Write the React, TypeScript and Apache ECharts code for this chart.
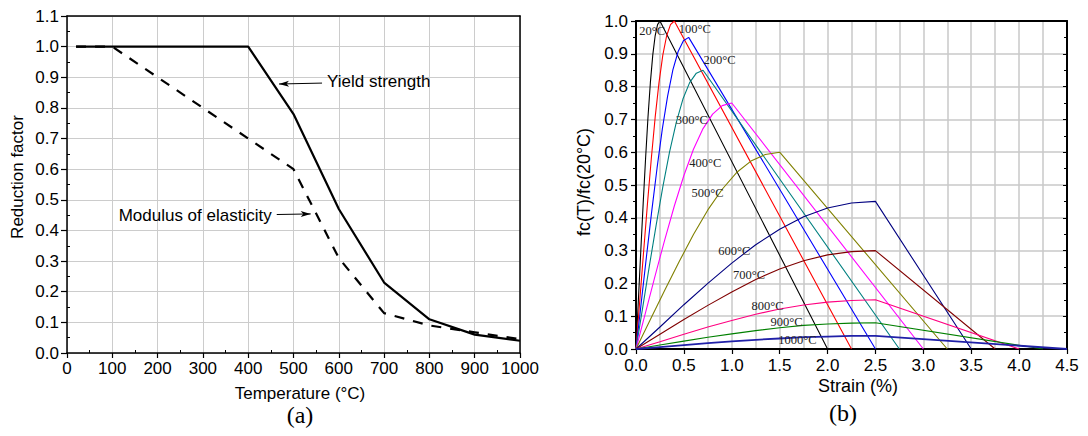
import React, { useEffect, useRef } from 'react';
import * as echarts from 'echarts';

// ---------- (a) Reduction factors ----------
const temperatureYield = [20, 400, 500, 600, 700, 800, 900, 1000];
const yieldStrength = [1.0, 1.0, 0.78, 0.47, 0.23, 0.11, 0.06, 0.04];
const temperatureModulus = [20, 100, 200, 300, 400, 500, 600, 700, 800, 900, 1000];
const modulusElasticity = [1.0, 1.0, 0.9, 0.8, 0.7, 0.6, 0.31, 0.13, 0.09, 0.0675, 0.045];

// ---------- (b) Stress-strain curves ----------
const curveNames = ['20°C', '100°C', '200°C', '300°C', '400°C', '500°C', '600°C', '700°C', '800°C', '900°C', '1000°C'];

const strain20 = [0, 0.025, 0.05, 0.075, 0.1, 0.125, 0.15, 0.175, 0.2, 0.225, 0.25, 2.0];
const stress20 = [0, 0.15, 0.299, 0.444, 0.581, 0.706, 0.812, 0.896, 0.955, 0.989, 1.0, 0];
const strain100 = [0, 0.04, 0.08, 0.12, 0.16, 0.2, 0.24, 0.28, 0.32, 0.36, 0.4, 2.25];
const stress100 = [0, 0.15, 0.299, 0.444, 0.581, 0.706, 0.812, 0.896, 0.955, 0.989, 1.0, 0];
const strain200 = [0, 0.055, 0.11, 0.165, 0.22, 0.275, 0.33, 0.385, 0.44, 0.495, 0.55, 2.5];
const stress200 = [0, 0.142, 0.284, 0.422, 0.552, 0.671, 0.771, 0.851, 0.907, 0.94, 0.95, 0];
const strain300 = [0, 0.07, 0.14, 0.21, 0.28, 0.35, 0.42, 0.49, 0.56, 0.63, 0.7, 2.75];
const stress300 = [0, 0.127, 0.254, 0.377, 0.494, 0.6, 0.69, 0.762, 0.812, 0.841, 0.85, 0];
const strain400 = [0, 0.1, 0.2, 0.3, 0.4, 0.5, 0.6, 0.7, 0.8, 0.9, 1.0, 3.0];
const stress400 = [0, 0.112, 0.224, 0.333, 0.436, 0.529, 0.609, 0.672, 0.716, 0.742, 0.75, 0];
const strain500 = [0, 0.15, 0.3, 0.45, 0.6, 0.75, 0.9, 1.05, 1.2, 1.35, 1.5, 3.25];
const stress500 = [0, 0.09, 0.179, 0.266, 0.349, 0.424, 0.487, 0.538, 0.573, 0.593, 0.6, 0];
const strain600 = [0, 0.25, 0.5, 0.75, 1.0, 1.25, 1.5, 1.75, 2.0, 2.25, 2.5, 3.5];
const stress600 = [0, 0.067, 0.135, 0.2, 0.262, 0.318, 0.365, 0.403, 0.43, 0.445, 0.45, 0];
const strain700 = [0, 0.25, 0.5, 0.75, 1.0, 1.25, 1.5, 1.75, 2.0, 2.25, 2.5, 3.75];
const stress700 = [0, 0.045, 0.09, 0.133, 0.174, 0.212, 0.244, 0.269, 0.287, 0.297, 0.3, 0];
const strain800 = [0, 0.25, 0.5, 0.75, 1.0, 1.25, 1.5, 1.75, 2.0, 2.25, 2.5, 4.0];
const stress800 = [0, 0.022, 0.045, 0.067, 0.087, 0.106, 0.122, 0.134, 0.143, 0.148, 0.15, 0];
const strain900 = [0, 0.25, 0.5, 0.75, 1.0, 1.25, 1.5, 1.75, 2.0, 2.25, 2.5, 4.25];
const stress900 = [0, 0.012, 0.024, 0.036, 0.046, 0.056, 0.065, 0.072, 0.076, 0.079, 0.08, 0];
const strain1000 = [0, 0.25, 0.5, 0.75, 1.0, 1.25, 1.5, 1.75, 2.0, 2.25, 2.5, 4.5];
const stress1000 = [0, 0.006, 0.012, 0.018, 0.023, 0.028, 0.032, 0.036, 0.038, 0.04, 0.04, 0];

// label anchors (left edge, vertical middle) in data units
const labelStrain = [0.03, 0.44, 0.7, 0.41, 0.55, 0.575, 0.854, 1.007, 1.2, 1.4, 1.48];
const labelStress = [0.968, 0.976, 0.88, 0.697, 0.567, 0.476, 0.3, 0.225, 0.132, 0.082, 0.026];

const xTicksA = [0, 1000, 100];
const yTicksA = [0, 1.1, 0.1];
const xTicksB = [0, 4.5, 0.5];
const yTicksB = [0, 1.0, 0.1];

const curveStrains = [strain20, strain100, strain200, strain300, strain400, strain500, strain600, strain700, strain800, strain900, strain1000];
const curveStresses = [stress20, stress100, stress200, stress300, stress400, stress500, stress600, stress700, stress800, stress900, stress1000];
const curveColors = ['#000000', '#ff0000', '#0000ff', '#008080', '#ff00ff', '#808000', '#000080', '#800000', '#ff0080', '#008000', '#2020a8'];

const SANS = '"Liberation Sans", Arial, sans-serif';
const SERIF = '"Liberation Serif", "Times New Roman", serif';

const zip = (xs: number[], ys: number[]) => xs.map((x, i) => [x, ys[i]]);

export default function App() {
  const ref = useRef<HTMLDivElement>(null);

  useEffect(() => {
    document.body.style.margin = '0';
    if (!ref.current) return;
    const chart = echarts.init(ref.current, undefined, { renderer: 'svg' });

    const gridA = { left: 67, top: 16, width: 453, height: 337 };
    const gridB = { left: 636, top: 21, width: 431, height: 328 };

    const curveSeries = curveNames.map((name, i) => ({
      type: 'line',
      name,
      xAxisIndex: 2,
      yAxisIndex: 2,
      data: zip(curveStrains[i], curveStresses[i]),
      symbol: 'none',
      showSymbol: false,
      silent: true,
      lineStyle: { color: curveColors[i], width: i === 10 ? 1.8 : 1.1 },
      markPoint: {
        silent: true,
        symbol: 'circle',
        symbolSize: 1,
        itemStyle: { color: 'rgba(0,0,0,0)' },
        label: {
          show: true,
          position: 'right',
          distance: 0,
          formatter: name,
          fontFamily: SERIF,
          fontSize: 12.5,
          color: '#222',
        },
        data: [{ coord: [labelStrain[i], labelStress[i]] }],
      },
    }));

    const option: any = {
      animation: false,
      grid: [
        { ...gridA, show: false },
        { ...gridB, show: false },
      ],
      xAxis: [
        {
          type: 'value', gridIndex: 0, position: 'bottom',
          min: xTicksA[0], max: xTicksA[1], interval: xTicksA[2],
          axisLine: { show: true, onZero: false, lineStyle: { color: '#000', width: 1.5 } },
          axisTick: { show: true, length: 5, lineStyle: { color: '#000', width: 1.2 } },
          minorTick: { show: true, splitNumber: 2, length: -3, lineStyle: { color: '#000', width: 1 } },
          axisLabel: { color: '#000', fontFamily: SANS, fontSize: 17, margin: 7, formatter: (v: number) => String(v) },
          splitLine: { show: true, lineStyle: { color: '#cccccc', width: 1 } },
        },
        {
          type: 'value', gridIndex: 0, position: 'top',
          min: xTicksA[0], max: xTicksA[1], interval: xTicksA[2],
          axisLine: { show: true, onZero: false, lineStyle: { color: '#000', width: 1.5 } },
          axisTick: { show: false }, axisLabel: { show: false }, splitLine: { show: false },
        },
        {
          type: 'value', gridIndex: 1, position: 'bottom',
          min: xTicksB[0], max: xTicksB[1], interval: xTicksB[2],
          axisLine: { show: true, onZero: false, lineStyle: { color: '#000', width: 2 } },
          axisTick: { show: true, length: 5, lineStyle: { color: '#000', width: 1.2 } },
          minorTick: { show: false, splitNumber: 2 },
          minorSplitLine: { show: true, lineStyle: { color: '#c8c8c8', width: 1.5 } },
          axisLabel: {
            color: '#000', fontFamily: SANS, fontSize: 17, margin: 8,
            formatter: (v: number) => v.toFixed(1),
          },
          splitLine: { show: true, lineStyle: { color: '#c8c8c8', width: 1.5 } },
        },
        {
          type: 'value', gridIndex: 1, position: 'top',
          min: xTicksB[0], max: xTicksB[1], interval: xTicksB[2],
          axisLine: { show: true, onZero: false, lineStyle: { color: '#000', width: 2 } },
          axisTick: { show: false }, axisLabel: { show: false }, splitLine: { show: false },
        },
      ],
      yAxis: [
        {
          type: 'value', gridIndex: 0, position: 'left',
          min: yTicksA[0], max: yTicksA[1], interval: yTicksA[2],
          axisLine: { show: true, onZero: false, lineStyle: { color: '#000', width: 1.5 } },
          axisTick: { show: true, length: 6, lineStyle: { color: '#000', width: 1.2 } },
          minorTick: { show: true, splitNumber: 2, length: -3, lineStyle: { color: '#000', width: 1 } },
          axisLabel: {
            color: '#000', fontFamily: SANS, fontSize: 17, margin: 8,
            formatter: (v: number) => v.toFixed(1),
          },
          splitLine: { show: true, lineStyle: { color: '#cccccc', width: 1 } },
        },
        {
          type: 'value', gridIndex: 0, position: 'right',
          min: yTicksA[0], max: yTicksA[1], interval: yTicksA[2],
          axisLine: { show: true, onZero: false, lineStyle: { color: '#000', width: 1.5 } },
          axisTick: { show: false }, axisLabel: { show: false }, splitLine: { show: false },
        },
        {
          type: 'value', gridIndex: 1, position: 'left',
          min: yTicksB[0], max: yTicksB[1], interval: yTicksB[2],
          axisLine: { show: true, onZero: false, lineStyle: { color: '#000', width: 2 } },
          axisTick: { show: true, length: 5, lineStyle: { color: '#000', width: 1.2 } },
          minorTick: { show: true, splitNumber: 2, length: 3, lineStyle: { color: '#000', width: 1 } },
          axisLabel: {
            color: '#000', fontFamily: SANS, fontSize: 17, margin: 8,
            formatter: (v: number) => v.toFixed(1),
          },
          splitLine: { show: true, lineStyle: { color: '#c8c8c8', width: 1.5 } },
        },
        {
          type: 'value', gridIndex: 1, position: 'right',
          min: yTicksB[0], max: yTicksB[1], interval: yTicksB[2],
          axisLine: { show: true, onZero: false, lineStyle: { color: '#000', width: 2 } },
          axisTick: { show: true, inside: true, length: 4, lineStyle: { color: '#000', width: 1 } },
          minorTick: { show: true, splitNumber: 2, length: 3, lineStyle: { color: '#000', width: 1 } },
          axisLabel: { show: false }, splitLine: { show: false },
        },
      ],
      series: [
        {
          type: 'line',
          name: 'Yield strength',
          xAxisIndex: 0, yAxisIndex: 0,
          data: zip(temperatureYield, yieldStrength),
          symbol: 'none', showSymbol: false, silent: true,
          lineStyle: { color: '#000', width: 2.2 },
          z: 3,
          markLine: {
            silent: true,
            symbol: ['none', 'arrow'],
            lineStyle: { color: '#000', width: 1, type: 'solid' },
            label: { show: false },
            data: [
              [
                { coord: [563, 0.881], symbolSize: 0 },
                { coord: [468, 0.878], symbolSize: [4.5, 10] },
              ],
              [
                { coord: [463, 0.452], symbolSize: 0 },
                { coord: [538, 0.454], symbolSize: [4.5, 10] },
              ],
            ],
          },
          markPoint: {
            silent: true,
            symbol: 'circle',
            symbolSize: 1,
            itemStyle: { color: 'rgba(0,0,0,0)' },
            data: [
              {
                coord: [573, 0.886],
                label: {
                  show: true, position: 'right', distance: 0, formatter: 'Yield strength',
                  fontFamily: SANS, fontSize: 17, color: '#000',
                },
              },
              {
                coord: [453, 0.449],
                label: {
                  show: true, position: 'left', distance: 0, formatter: 'Modulus of elasticity',
                  fontFamily: SANS, fontSize: 17, color: '#000',
                },
              },
            ],
          },
        },
        {
          type: 'line',
          name: 'Modulus of elasticity',
          xAxisIndex: 0, yAxisIndex: 0,
          data: zip(temperatureModulus, modulusElasticity),
          symbol: 'none', showSymbol: false, silent: true,
          lineStyle: { color: '#000', width: 2.2, type: [10, 9] },
          z: 2,
        },
        ...curveSeries,
      ],
      graphic: [
        {
          type: 'text', x: 17, y: 177, rotation: Math.PI / 2,
          style: { text: 'Reduction factor', fontFamily: SANS, fontSize: 17, fill: '#000', align: 'center', verticalAlign: 'middle' },
        },
        {
          type: 'text', x: 300, y: 393,
          style: { text: 'Temperature (°C)', fontFamily: SANS, fontSize: 17, fill: '#000', align: 'center', verticalAlign: 'middle' },
        },
        {
          type: 'text', x: 300, y: 415,
          style: { text: '(a)', fontFamily: SERIF, fontSize: 24, fill: '#000', align: 'center', verticalAlign: 'middle' },
        },
        {
          type: 'text', x: 584, y: 182, rotation: Math.PI / 2,
          style: { text: 'fc(T)/fc(20°C)', fontFamily: SANS, fontSize: 18, fill: '#000', align: 'center', verticalAlign: 'middle' },
        },
        {
          type: 'text', x: 858, y: 386,
          style: { text: 'Strain (%)', fontFamily: SANS, fontSize: 18, fill: '#000', align: 'center', verticalAlign: 'middle' },
        },
        {
          type: 'text', x: 843, y: 413,
          style: { text: '(b)', fontFamily: SERIF, fontSize: 24, fill: '#000', align: 'center', verticalAlign: 'middle' },
        },
      ],
    };

    chart.setOption(option);
    return () => chart.dispose();
  }, []);

  return <div ref={ref} style={{ width: 1088, height: 436, background: '#fff' }} />;
}
